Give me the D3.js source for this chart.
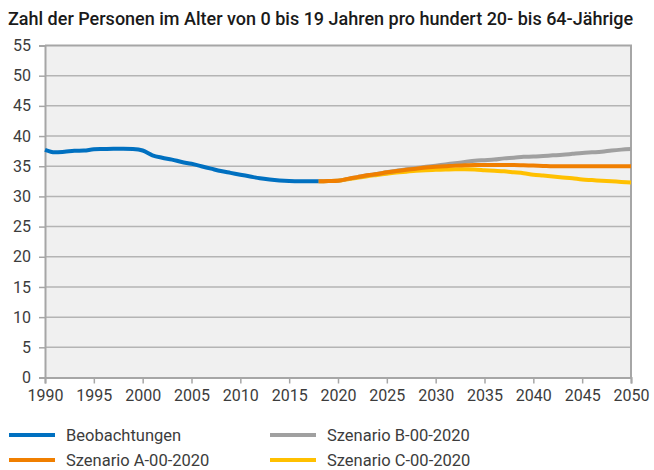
<!DOCTYPE html>
<meta charset="utf-8">
<script src="https://cdn.jsdelivr.net/npm/d3@7"></script>
<style>
  body { margin: 0; background: #fff; }
  text { font-family: Roboto, "Noto Sans", sans-serif; fill: #3c3c3c; }
</style>
<div id="chart"></div>
<script>
// observed values 1990-2018
var obsYears = d3.range(1990, 2019);
var obsValues = [37.7, 37.3, 37.4, 37.55, 37.6, 37.8, 37.85, 37.9, 37.9, 37.85,
                 37.6, 36.8, 36.4, 36.1, 35.7, 35.4, 35.0, 34.6, 34.2, 33.9,
                 33.6, 33.3, 33.0, 32.8, 32.65, 32.55, 32.5, 32.5, 32.5];

// scenarios 2018-2050
var scenYears = d3.range(2018, 2051);
var scenA = [32.5, 32.55, 32.6, 32.9, 33.2, 33.5, 33.7, 34.0, 34.2, 34.4,
             34.6, 34.8, 34.9, 35.0, 35.1, 35.15, 35.2, 35.2, 35.2, 35.2,
             35.2, 35.15, 35.1, 35.05, 35.0, 35.0, 35.0, 35.0, 35.0, 35.0,
             35.0, 35.0, 35.0];
var scenB = [32.5, 32.55, 32.6, 32.9, 33.2, 33.5, 33.7, 34.0, 34.25, 34.5,
             34.7, 34.9, 35.1, 35.3, 35.5, 35.7, 35.9, 36.0, 36.1, 36.3,
             36.4, 36.55, 36.6, 36.7, 36.8, 36.9, 37.05, 37.2, 37.3, 37.4,
             37.6, 37.75, 37.85];
var scenC = [32.5, 32.55, 32.6, 32.85, 33.1, 33.35, 33.55, 33.75, 33.95, 34.1,
             34.25, 34.35, 34.4, 34.45, 34.5, 34.5, 34.45, 34.35, 34.25, 34.15,
             34.0, 33.85, 33.6, 33.45, 33.3, 33.15, 33.0, 32.8, 32.7, 32.6,
             32.5, 32.4, 32.3];

var xTicks = d3.range(1990, 2051, 5);
var yTicks = d3.range(0, 56, 5);

var seriesNames = ["Beobachtungen", "Szenario A-00-2020", "Szenario B-00-2020", "Szenario C-00-2020"];
var seriesColors = ["#0070c0", "#f07f00", "#a0a0a0", "#ffc000"];

var width = 654, height = 470;
var margin = {top: 45.5, right: 23, bottom: 92.5, left: 45};

var svg = d3.select("#chart").append("svg")
    .attr("width", width).attr("height", height);

var x = d3.scaleLinear().domain([1990, 2050]).range([margin.left, width - margin.right]);
var y = d3.scaleLinear().domain([0, 55]).range([height - margin.bottom, margin.top]);

// title
svg.append("text")
    .attr("x", 8).attr("y", 25)
    .style("font-size", "18px").style("font-weight", 500).style("fill", "#1a1a1a")
    .text("Zahl der Personen im Alter von 0 bis 19 Jahren pro hundert 20- bis 64-Jährige");

// plot background
svg.append("rect")
    .attr("x", x(1990)).attr("y", y(55))
    .attr("width", x(2050) - x(1990)).attr("height", y(0) - y(55))
    .attr("fill", "#f0f0f0");

// gridlines
svg.append("g").selectAll("line")
  .data(yTicks.filter(function(d) { return d > 0 && d < 55; }))
  .enter().append("line")
    .attr("x1", x(1990)).attr("x2", x(2050))
    .attr("y1", function(d) { return y(d); }).attr("y2", function(d) { return y(d); })
    .attr("stroke", "#b4b4b4").attr("stroke-width", 1.5);

// frame top / right
svg.append("path")
    .attr("d", "M" + x(1990) + "," + y(55) + "H" + x(2050) + "V" + y(0))
    .attr("fill", "none").attr("stroke", "#a6a6a6").attr("stroke-width", 2);

// axes
var yAxis = svg.append("g")
    .attr("transform", "translate(" + x(1990) + ",0)")
    .call(d3.axisLeft(y).tickValues(yTicks).tickSize(6).tickPadding(8));
var xAxis = svg.append("g")
    .attr("transform", "translate(0," + y(0) + ")")
    .call(d3.axisBottom(x).tickValues(xTicks).tickFormat(d3.format("d")).tickSize(6).tickPadding(6));

[yAxis, xAxis].forEach(function(a) {
  a.select(".domain").attr("stroke", "#a6a6a6").attr("stroke-width", 2);
  a.selectAll(".tick line").attr("stroke", "#a6a6a6").attr("stroke-width", 1.5);
  a.selectAll(".tick text").style("font-size", "16px").style("fill", "#3c3c3c")
    .style("font-family", "Roboto, sans-serif");
});

var line = d3.line()
    .x(function(d) { return x(d[0]); })
    .y(function(d) { return y(d[1]); })
    .curve(d3.curveMonotoneX);

function pairs(years, vals) { return years.map(function(yr, i) { return [yr, vals[i]]; }); }

var lines = [
  {data: pairs(scenYears, scenC), color: seriesColors[3]},
  {data: pairs(scenYears, scenB), color: seriesColors[2]},
  {data: pairs(scenYears, scenA), color: seriesColors[1]},
  {data: pairs(obsYears, obsValues), color: seriesColors[0]}
];

svg.append("g").selectAll("path")
  .data(lines)
  .enter().append("path")
    .attr("d", function(d) { return line(d.data); })
    .attr("fill", "none")
    .attr("stroke", function(d) { return d.color; })
    .attr("stroke-width", 4)
    .attr("stroke-linejoin", "round");

// legend
var legendPos = [[9, 435], [9, 460], [270, 435], [270, 460]];
var legend = svg.append("g").selectAll("g")
  .data(seriesNames)
  .enter().append("g")
    .attr("transform", function(d, i) { return "translate(" + legendPos[i][0] + "," + legendPos[i][1] + ")"; });
legend.append("line")
    .attr("x1", 0).attr("x2", 46).attr("y1", 0).attr("y2", 0)
    .attr("stroke", function(d, i) { return seriesColors[i]; })
    .attr("stroke-width", 4);
legend.append("text")
    .attr("x", 57).attr("y", 0).attr("dy", "0.35em")
    .style("font-size", "16.5px").style("fill", "#3c3c3c")
    .text(function(d) { return d; });
</script>
